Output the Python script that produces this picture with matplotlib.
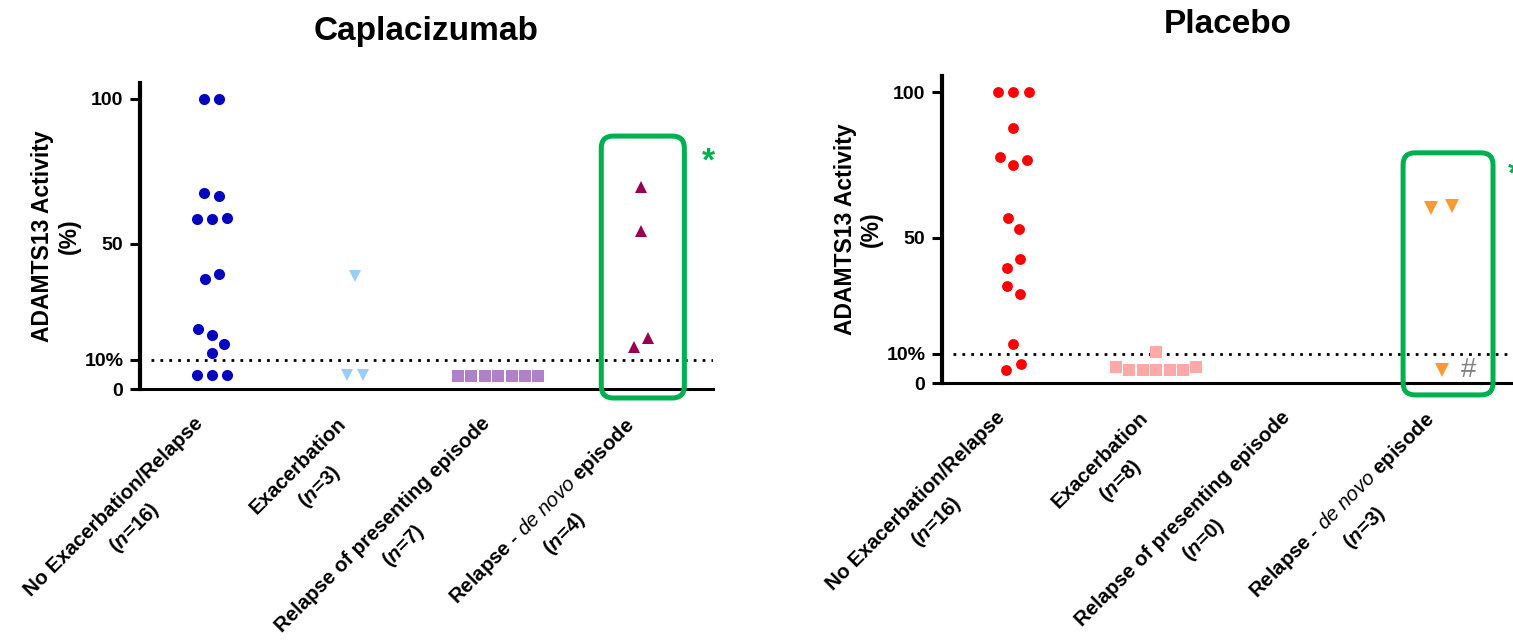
import numpy as np
import matplotlib
matplotlib.use("Agg")
import matplotlib.pyplot as plt
from matplotlib.patches import FancyBboxPatch

plt.rcParams['font.family'] = 'Liberation Sans'
plt.rcParams['mathtext.fontset'] = 'custom'
plt.rcParams['mathtext.rm'] = 'Liberation Sans'
plt.rcParams['mathtext.it'] = 'Liberation Sans:italic'
plt.rcParams['mathtext.bf'] = 'Liberation Sans:bold'
has_bfit = 'mathtext.bfit' in plt.rcParams
if has_bfit:
    plt.rcParams['mathtext.bfit'] = 'Liberation Sans:italic:bold'
n_sym = r'$\mathbfit{n}$' if has_bfit else r'$\mathit{n}$'

# data (ADAMTS13 activity, %)
categories = ["No Exacerbation/Relapse", "Exacerbation",
              "Relapse of presenting episode", r"Relapse - $\mathit{de\ novo}$ episode"]

cap_no_exac = [100, 100, 67.7, 66.7, 59, 58.6, 58.6, 39.7, 37.8, 20.6, 18.6, 15.6, 12.5, 4.7, 4.7, 4.7]
cap_exac = [39, 4.7, 4.7]
cap_relapse_pres = [4.6, 4.6, 4.6, 4.6, 4.6, 4.6, 4.6]
cap_denovo = [69.5, 54.5, 17.5, 14.6]
cap_n = [16, 3, 7, 4]

pla_no_exac = [100, 100, 100, 87.7, 77.8, 76.8, 74.8, 56.7, 52.8, 42.7, 39.6, 33.5, 30.6, 13.5, 6.5, 4.5]
pla_exac = [10.5, 5.6, 5.5, 4.4, 4.4, 4.4, 4.4, 4.4]
pla_relapse_pres = []
pla_denovo = [60.8, 60.0, 4.6]
pla_n = [16, 8, 0, 3]

yticks = [0, 10, 50, 100]
yticklabels = ['0', '10%', '50', '100']

green = '#00B050'

# marker, colour, size (pt), swarm spacing (px)
cap_styles = [('o', '#0505BE', 8, 15), ('v', '#99CCFF', 8, 16),
              ('s', '#B080C8', 8.6, 13.4), ('^', '#990050', 8.6, 16.5)]
pla_styles = [('o', '#FF0000', 7.8, 15.5), ('s', '#FFA8A8', 8, 13.4),
              ('s', '#FFA8A8', 8, 13.4), ('v', '#FF9933', 10, 21)]


def swarm(ypix, d):
    # simple beeswarm in pixel space, each cluster centred afterwards
    ypix = np.asarray(ypix, float)
    xs = np.zeros(len(ypix))
    if len(ypix) == 0:
        return xs
    order = np.argsort(ypix, kind='stable')
    placed = []
    sign = 1
    for i in order:
        y = ypix[i]
        cands = [0.0]
        for px, py in placed:
            dy = abs(py - y)
            if dy < d:
                dx = np.sqrt(d * d - dy * dy)
                cands += [px + dx, px - dx]
        ok = [c for c in cands
              if all((c - px) ** 2 + (y - py) ** 2 >= d * d - 1e-6 for px, py in placed)]
        if not ok:
            ok = [max(abs(p[0]) for p in placed) + d]
        best = min(ok, key=lambda c: (round(abs(c), 6), -sign * c))
        if best != 0:
            sign = -np.sign(best)
        xs[i] = best
        placed.append((best, y))
    groups = [[order[0]]]
    for a, b in zip(order[:-1], order[1:]):
        if ypix[b] - ypix[a] < d:
            groups[-1].append(b)
        else:
            groups.append([b])
    for g in groups:
        xs[g] -= xs[g].mean()
    return xs


W, H = 1513, 643
fig = plt.figure(figsize=(W / 100, H / 100), dpi=100)

panels = [
    dict(title='Caplacizumab', rect=[140, 254, 573, 306],
         groups=[cap_no_exac, cap_exac, cap_relapse_pres, cap_denovo], n=cap_n,
         styles=cap_styles, box=(2.72, 3.30, -3.1, 87.2), star=(3.47, 78.3), hash=None),
    dict(title='Placebo', rect=[942, 260, 571, 307],
         groups=[pla_no_exac, pla_exac, pla_relapse_pres, pla_denovo], n=pla_n,
         styles=pla_styles, box=(2.73, 3.36, -4.1, 79.1), star=(3.51, 71.6), hash=(3.19, 4.5)),
]

xlim = (-0.5, 3.5)
ylim = (0, 105.5)

for p in panels:
    l, b, w, h = p['rect']
    ax = fig.add_axes([l / W, b / H, w / W, h / H])
    ax.set_xlim(*xlim)
    ax.set_ylim(*ylim)
    ppx = w / (xlim[1] - xlim[0])
    ppy = h / (ylim[1] - ylim[0])

    for i, (vals, (mk, col, ms, d)) in enumerate(zip(p['groups'], p['styles'])):
        if len(vals) == 0:
            continue
        off = swarm(np.array(vals) * ppy, d) / ppx
        ax.plot(i + off, vals, ls='none', marker=mk, color=col, ms=ms, mew=0, clip_on=False, zorder=3)

    ax.axhline(10, xmin=0.02, xmax=1, color='black', lw=2, ls=(0, (1, 2.2)), zorder=2)

    for s in ['top', 'right']:
        ax.spines[s].set_visible(False)
    ax.spines['left'].set_linewidth(3)
    ax.spines['bottom'].set_linewidth(2.2)

    ax.set_yticks(yticks)
    ax.set_yticklabels(yticklabels, fontsize=14, fontweight='bold')
    ax.tick_params(axis='y', length=7, width=2.2, pad=5, direction='out')
    ax.set_xticks([])

    ax.set_ylabel('ADAMTS13 Activity\n(%)', fontsize=16.5, fontweight='bold', linespacing=1.2)
    ax.yaxis.set_label_coords(-0.103, 0.5)
    ax.set_title(p['title'], fontsize=24, fontweight='bold', pad=31)

    for i, (cat, n) in enumerate(zip(categories, p['n'])):
        ax.annotate(f"{cat}\n({n_sym}={n})", xy=(i, 0), xycoords=('data', 'axes fraction'),
                    xytext=(-13, -18), textcoords='offset points', rotation=45,
                    rotation_mode='anchor', ha='right', va='top', multialignment='center',
                    linespacing=1.5, fontsize=14.7, fontweight='bold', annotation_clip=False)

    x0, x1, y0, y1 = p['box']
    r = 12 / ppx
    box = FancyBboxPatch((x0, y0), x1 - x0, y1 - y0, boxstyle=f"round,pad=0,rounding_size={r}",
                         mutation_aspect=ppx / ppy, transform=ax.transData, clip_on=False,
                         fill=False, ec=green, lw=3.6, zorder=4)
    ax.add_patch(box)

    sx, sy = p['star']
    ax.text(sx, sy, '*', color=green, fontsize=24, fontweight='bold', ha='center', va='center',
            clip_on=False)
    if p['hash'] is not None:
        hx, hy = p['hash']
        ax.text(hx, hy, '#', color='#808080', fontsize=20, ha='center', va='center', clip_on=False)

fig.savefig('out.png', dpi=100)
